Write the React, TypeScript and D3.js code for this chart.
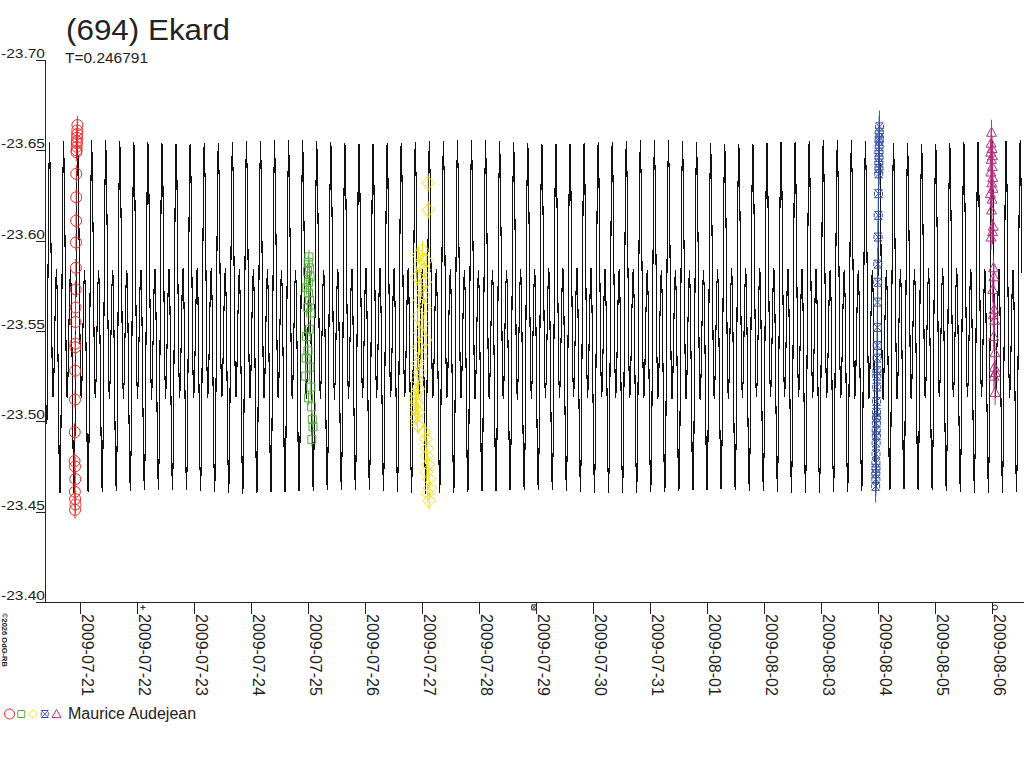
import * as d3 from "d3";

const TITLE = "(694) Ekard";
const SUBTITLE = "T=0.246791";
const PERIOD = 0.246791; // days
const OBSERVER = "Maurice Audejean";
const CREDIT = "©2026 OdG-RB";

const yTicks = [-23.7, -23.65, -23.6, -23.55, -23.5, -23.45, -23.4];
const dateTicks = [
  "2009-07-21", "2009-07-22", "2009-07-23", "2009-07-24", "2009-07-25",
  "2009-07-26", "2009-07-27", "2009-07-28", "2009-07-29", "2009-07-30",
  "2009-07-31", "2009-08-01", "2009-08-02", "2009-08-03", "2009-08-04",
  "2009-08-05", "2009-08-06",
];
const timeStart = "2009-07-20T09:16:00Z";
const timeEnd = "2009-08-06T13:28:00Z";

// model: one rotation, phase 0 = primary maximum
const modelPhase = [0, 0.0625, 0.125, 0.1875, 0.25, 0.3125, 0.375, 0.4375, 0.5, 0.5625, 0.625, 0.6875, 0.75, 0.8125, 0.875, 0.9375, 1];
const modelMag = [-23.656, -23.635, -23.584, -23.533, -23.512, -23.523, -23.549, -23.574, -23.585, -23.567, -23.523, -23.478, -23.46, -23.489, -23.558, -23.627, -23.656];
const modelEpoch = "2009-07-29T20:13:00Z";
const modelStart = "2009-07-20T10:05:00Z";
const modelEnd = "2009-08-06T12:40:00Z";

// sessions (hours UT relative to the base date)
const redHours = [22.9, 22.85, 22.8, 22.75, 22.7, 22.65, 22.6, 22.55, 22.5, 22.45, 22.4, 22.35, 22.3, 22.25, 22.2, 22.15, 22.1, 22.05, 22.0, 21.95, 21.9, 21.8, 21.7, 21.9, 22.0, 21.85, 21.95, 22.1, 21.9];
const redMags = [-23.664, -23.661, -23.659, -23.657, -23.655, -23.654, -23.652, -23.65, -23.649, -23.637, -23.624, -23.611, -23.599, -23.585, -23.573, -23.563, -23.555, -23.543, -23.541, -23.528, -23.512, -23.494, -23.478, -23.475, -23.468, -23.461, -23.457, -23.454, -23.451];

const greenHours = [0.4, 0.1, 0.6, -0.2, 0.9, 0.3, -0.5, 0.2, 0.7, -0.1, 1.0, 0.5, -0.6, 0.0, -0.8, 0.8, -1.0, 1.2, 0.2, 1.5, 1.8, 2.1, 1.6];
const greenMags = [-23.591, -23.588, -23.585, -23.583, -23.58, -23.577, -23.574, -23.571, -23.567, -23.563, -23.56, -23.551, -23.547, -23.539, -23.535, -23.53, -23.525, -23.519, -23.513, -23.508, -23.501, -23.497, -23.49];

const yellowHours = [2.5, 2.6, 0.2, -1.5, 1.8, -0.8, 0.9, -2.2, 1.4, -0.3, 0.6, -1.0, 1.2, -1.8, 0.4, -0.9, 1.6, -1.4, -0.4, -1.7, -1.1, -2.0, -1.5, -2.4, -2.8, -2.2, -2.7, -1.6, -2.5, -1.9, 1.0, 1.6, 2.2, 1.9, 2.6, 2.0, 2.9, 3.3, 2.4, 3.0];
const yellowMags = [-23.632, -23.617, -23.595, -23.592, -23.589, -23.587, -23.584, -23.58, -23.577, -23.574, -23.57, -23.567, -23.563, -23.558, -23.554, -23.549, -23.545, -23.541, -23.536, -23.532, -23.527, -23.523, -23.518, -23.515, -23.512, -23.51, -23.507, -23.505, -23.502, -23.498, -23.494, -23.49, -23.485, -23.481, -23.476, -23.472, -23.468, -23.463, -23.46, -23.456];

const blueHours = [0.6, 0.5, 0.55, 0.45, 0.5, 0.4, 0.45, 0.35, 0.4, 0.3, 0.2, 0.1, 0.0, -0.1, -0.15, -0.2, -0.3, -0.35, -0.4, -0.45, -0.5, -0.55, -0.6, -0.65, -0.6, -0.7, -0.75, -0.7, -0.8, -0.85, -0.9, -0.85, -0.95, -0.9, -1.0];
const blueMags = [-23.663, -23.66, -23.657, -23.655, -23.652, -23.649, -23.646, -23.643, -23.64, -23.637, -23.626, -23.614, -23.602, -23.587, -23.577, -23.566, -23.552, -23.542, -23.535, -23.528, -23.525, -23.519, -23.511, -23.505, -23.502, -23.499, -23.495, -23.492, -23.488, -23.482, -23.477, -23.474, -23.471, -23.468, -23.464];

const magentaHours = [-0.2, -0.4, 0.0, -0.6, 0.2, -0.3, 0.1, -0.5, 0.3, -0.1, 0.4, -0.7, 0.0, -0.2, 0.5, 0.2, -0.4, 0.6, 0.8, 0.3, 0.9, 0.5, 1.1, 0.7, 1.2, 1.0, 1.4, 0.8, 1.3];
const magentaMags = [-23.66, -23.654, -23.651, -23.649, -23.647, -23.645, -23.641, -23.638, -23.635, -23.632, -23.629, -23.626, -23.623, -23.617, -23.608, -23.605, -23.602, -23.585, -23.58, -23.573, -23.562, -23.559, -23.556, -23.547, -23.538, -23.53, -23.527, -23.525, -23.516];

// marks just outside the plotted range
const offscaleTimes = ["2009-07-22T02:30:00Z", "2009-07-28T23:10:00Z", "2009-08-06T01:15:00Z"];
const offscaleKinds = ["plus", "hourglass", "circle"];
const offscaleMag = -23.397;

const sessions = [
  { date: "2009-07-20", hours: redHours, mags: redMags, kind: "circle", color: "#ee2b2b", err: 0.005 },
  { date: "2009-07-25", hours: greenHours, mags: greenMags, kind: "square", color: "#57ad3c", err: 0.004 },
  { date: "2009-07-27", hours: yellowHours, mags: yellowMags, kind: "diamond", color: "#f2df10", err: 0.005 },
  { date: "2009-08-04", hours: blueHours, mags: blueMags, kind: "hourglass", color: "#3651a3", err: 0.009 },
  { date: "2009-08-06", hours: magentaHours, mags: magentaMags, kind: "triangle", color: "#b5307e", err: 0.007 },
];

const FONT = "'Liberation Sans', Arial, sans-serif";
const INK = "#222";

function markerPath(kind: string, h: number): string {
  switch (kind) {
    case "circle":
      return `M${-h},0a${h},${h} 0 1,0 ${2 * h},0a${h},${h} 0 1,0 ${-2 * h},0`;
    case "square":
      return `M${-h},${-h}h${2 * h}v${2 * h}h${-2 * h}Z`;
    case "diamond":
      return `M0,${-h}L${h},0L0,${h}L${-h},0Z`;
    case "hourglass":
      return `M${-h},${-h}H${h}L${-h},${h}H${h}ZM${-h},${-h * 0.5}V${h * 0.5}M${h},${-h * 0.5}V${h * 0.5}`;
    case "triangle":
      return `M0,${-h}L${h},${h * 0.8}L${-h},${h * 0.8}Z`;
    case "plus":
      return `M${-h},0H${h}M0,${-h}V${h}`;
    default:
      return "";
  }
}

const markerSize: Record<string, number> = { circle: 5.5, square: 4, diamond: 6.5, hourglass: 4, triangle: 5 };
const legendSize: Record<string, number> = { circle: 5, square: 3.5, diamond: 4.5, hourglass: 3.5, triangle: 4.5 };

export default function App() {
  const width = 1024;
  const height = 768;

  const x = d3.scaleUtc().domain([new Date(timeStart), new Date(timeEnd)]).range([45, 1024]);
  const y = d3.scaleLinear().domain([-23.7, -23.4]).range([60, 602]);

  // model curve, repeated with the period
  const shape = d3.scaleLinear().domain(modelPhase).range(modelMag);
  const epoch = new Date(modelEpoch).getTime();
  const times = d3.utcMinute.every(5)!.range(new Date(modelStart), new Date(modelEnd));
  const model = times.map((t) => {
    const cycles = (t.getTime() - epoch) / 864e5 / PERIOD;
    const ph = ((cycles % 1) + 1) % 1;
    return { t, mag: shape(ph) };
  });
  const line = d3
    .line<{ t: Date; mag: number }>()
    .x((d) => x(d.t))
    .y((d) => y(d.mag));

  const points = sessions.map((s) => {
    const base = Date.parse(s.date + "T00:00:00Z");
    return s.mags.map((m, i) => ({ t: new Date(base + s.hours[i] * 3600e3), mag: m }));
  });

  return (
    <svg
      width={width}
      height={height}
      style={{ position: "absolute", left: 0, top: 0, background: "#fff", fontFamily: FONT }}
    >
      {/* title */}
      <text x={66} y={40} fontSize={30} fill={INK} textLength={164} lengthAdjust="spacingAndGlyphs">
        {TITLE}
      </text>
      <text x={65} y={63} fontSize={15} fill={INK} textLength={83} lengthAdjust="spacingAndGlyphs">
        {SUBTITLE}
      </text>

      {/* model */}
      <path d={line(model) ?? ""} fill="none" stroke="#111" strokeWidth={1.1} shapeRendering="crispEdges" />

      {/* observations */}
      {sessions.map((s, si) => (
        <g key={s.date} stroke={s.color} fill="none" strokeWidth={1}>
          {points[si].map((p, i) => (
            <line
              key={"e" + i}
              x1={x(p.t)}
              x2={x(p.t)}
              y1={y(p.mag - s.err)}
              y2={y(p.mag + s.err)}
            />
          ))}
          {points[si].map((p, i) => (
            <path
              key={"m" + i}
              transform={`translate(${x(p.t)},${y(p.mag)})`}
              d={markerPath(s.kind, markerSize[s.kind])}
            />
          ))}
        </g>
      ))}

      {offscaleTimes.map((t, i) => (
        <path
          key={t}
          transform={`translate(${x(new Date(t))},${y(offscaleMag)})`}
          d={markerPath(offscaleKinds[i], 2.5)}
          fill="none"
          stroke={INK}
          strokeWidth={1}
        />
      ))}

      {/* y axis */}
      <g shapeRendering="crispEdges" stroke={INK}>
        <line x1={45.5} x2={45.5} y1={y(-23.7)} y2={y(-23.4)} />
        {yTicks.map((v) => (
          <line key={v} x1={36} x2={45.5} y1={Math.round(y(v)) + 0.5} y2={Math.round(y(v)) + 0.5} />
        ))}
      </g>
      {yTicks.map((v) => (
        <text
          key={v}
          x={1}
          y={y(v) - 2}
          fontSize={13.5}
          fill={INK}
          textLength={44}
          lengthAdjust="spacingAndGlyphs"
        >
          {v.toFixed(2)}
        </text>
      ))}

      {/* x axis */}
      <g shapeRendering="crispEdges" stroke={INK}>
        <line x1={36} x2={1024} y1={602.5} y2={602.5} />
        {dateTicks.map((d) => {
          const px = Math.round(x(new Date(d + "T00:00:00Z"))) + 0.5;
          return <line key={d} x1={px} x2={px} y1={602.5} y2={614} />;
        })}
      </g>
      {dateTicks.map((d) => {
        const px = x(new Date(d + "T00:00:00Z"));
        return (
          <text key={d} transform={`translate(${px + 2},${614}) rotate(90)`} fontSize={16} fill={INK}>
            {d}
          </text>
        );
      })}

      <text transform="translate(2,613) rotate(90)" fontSize={7.5} fontWeight="bold" fill={INK}>
        {CREDIT}
      </text>

      {/* legend */}
      {sessions.map((s, i) => (
        <path
          key={s.kind}
          transform={`translate(${9.5 + i * 11.75},${714})`}
          d={markerPath(s.kind, legendSize[s.kind])}
          fill="none"
          stroke={s.color}
          strokeWidth={1}
        />
      ))}
      <text x={68} y={719} fontSize={16} fill={INK}>
        {OBSERVER}
      </text>
    </svg>
  );
}
